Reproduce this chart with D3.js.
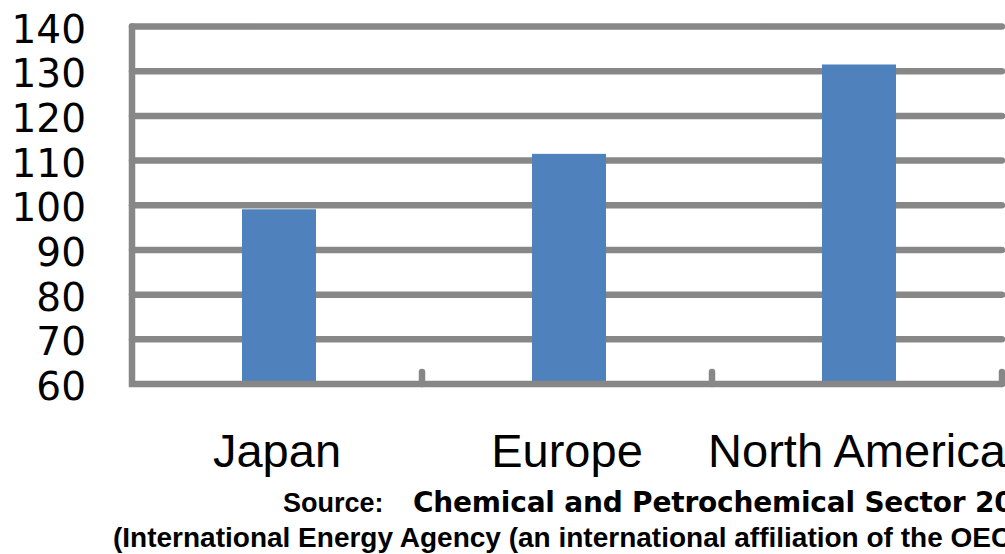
<!DOCTYPE html>
<html>
<head>
<meta charset="utf-8">
<script src="https://cdn.jsdelivr.net/npm/d3@7"></script>
<style>
  body { margin: 0; background: #fff; }
  svg { display: block; }
</style>
</head>
<body>
<div id="chart"></div>
<script>
// data
var regions = ["Japan", "Europe", "North America"];
var values = [99.1, 111.5, 131.5];
var yTicks = [60, 70, 80, 90, 100, 110, 120, 130, 140];

var width = 1005, height = 554;
var margin = {left: 132, top: 26.5, bottom: 384};

var svg = d3.select("#chart").append("svg")
    .attr("width", width)
    .attr("height", height);

var x = d3.scaleBand()
    .domain(regions)
    .range([margin.left, margin.left + 870])
    .paddingInner(0)
    .paddingOuter(0);

var y = d3.scaleLinear()
    .domain([60, 140])
    .range([margin.bottom, margin.top]);

var gridColor = "#878787";

// horizontal gridlines
svg.append("g").attr("class", "grid")
    .selectAll("line")
    .data(yTicks.slice(1))
    .join("line")
    .attr("x1", margin.left)
    .attr("x2", x.range()[1])
    .attr("y1", d => y(d))
    .attr("y2", d => y(d))
    .attr("stroke", gridColor)
    .attr("stroke-width", 6.5)
    .attr("stroke-linecap", "round");

// bars
var barW = 74;
svg.append("g").selectAll("rect")
    .data(regions)
    .join("rect")
    .attr("x", d => x(d) + x.bandwidth() / 2 - barW / 2 + 2)
    .attr("width", barW)
    .attr("y", (d, i) => y(values[i]))
    .attr("height", (d, i) => y(60) - y(values[i]))
    .attr("fill", "#4f81bd");

// axis lines + category ticks
var ax = svg.append("g").attr("stroke", gridColor)
    .attr("stroke-width", 6.5)
    .attr("stroke-linecap", "round")
    .attr("fill", "none");

ax.append("path")
    .attr("d", "M" + margin.left + "," + y(140) + "V" + y(60) + "H" + x.range()[1]);

ax.selectAll("line.tick")
    .data(regions)
    .join("line")
    .attr("class", "tick")
    .attr("x1", d => x(d) + x.bandwidth())
    .attr("x2", d => x(d) + x.bandwidth())
    .attr("y1", y(60))
    .attr("y2", y(60) - 12);

// y labels
svg.append("g").selectAll("text")
    .data(yTicks)
    .join("text")
    .attr("x", 86)
    .attr("y", d => y(d) + 2)
    .attr("dy", "0.36em")
    .attr("text-anchor", "end")
    .attr("font-family", "DejaVu Sans, sans-serif")
    .attr("font-size", 39)
    .attr("fill", "#000")
    .text(d => d);

// category labels
svg.append("g").selectAll("text")
    .data(regions)
    .join("text")
    .attr("x", d => x(d) + x.bandwidth() / 2)
    .attr("y", 467)
    .attr("text-anchor", "middle")
    .attr("font-family", "Liberation Sans, Arial, sans-serif")
    .attr("font-size", 47)
    .attr("fill", "#000")
    .text(d => d);

// source note (runs off the right edge, as in the original)
var src = svg.append("text")
    .attr("x", 283)
    .attr("y", 512)
    .attr("font-size", 27)
    .attr("font-weight", "bold")
    .attr("fill", "#000");
src.append("tspan")
    .attr("font-family", "Liberation Sans, Arial, sans-serif")
    .text("Source:  ");
src.append("tspan")
    .attr("x", 413)
    .attr("font-family", "DejaVu Sans, sans-serif")
    .attr("letter-spacing", -0.2)
    .attr("font-size", 28)
    .text("Chemical and Petrochemical Sector 2007");

svg.append("text")
    .attr("x", 113)
    .attr("y", 547)
    .attr("font-family", "Liberation Sans, Arial, sans-serif")
    .attr("font-size", 28)
    .attr("font-weight", "bold")
    .attr("fill", "#000")
    .text("(International Energy Agency (an international affiliation of the OECD))");
</script>
</body>
</html>
